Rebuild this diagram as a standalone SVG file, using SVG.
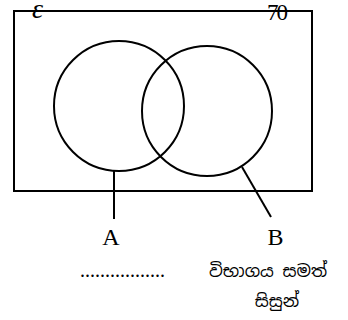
<svg xmlns="http://www.w3.org/2000/svg" width="348" height="320" viewBox="0 0 348 320">
<style>
.s{fill:none;stroke:#000;stroke-width:2}
.t{font-family:"Liberation Serif","Times New Roman",serif;fill:#000}
.si{font-family:"Noto Sans Sinhala","Noto Serif Sinhala","Iskoola Pota",sans-serif;fill:#000}
</style>
<rect width="348" height="320" fill="#fff"/>
<g id="universal">
<rect class="s" x="14" y="11" width="298" height="180"/>
<text class="t" x="32" y="18" font-size="28" font-style="italic">ε</text>
<text class="t" x="267" y="20" font-size="23" letter-spacing="-2">70</text>
</g>
<g id="setA">
<circle class="s" cx="119" cy="106" r="65"/>
</g>
<g id="setB">
<circle class="s" cx="207" cy="111" r="65"/>
</g>
<g id="connectors">
<line class="s" x1="114" y1="171" x2="114" y2="219"/>
<line class="s" x1="242" y1="167" x2="271" y2="217"/>
</g>
<g id="labelA">
<text class="t" x="111" y="245" font-size="24" text-anchor="middle">A</text>
<text class="t" x="80" y="277" font-size="20">.................</text>
</g>
<g id="labelB">
<text class="t" x="275.5" y="245" font-size="24" text-anchor="middle">B</text>
<text class="si" x="268" y="277" font-size="17" text-anchor="middle">විභාගය සමත්</text>
<text class="si" x="277" y="307" font-size="17" text-anchor="middle">සිසුන්</text>
</g>
</svg>
